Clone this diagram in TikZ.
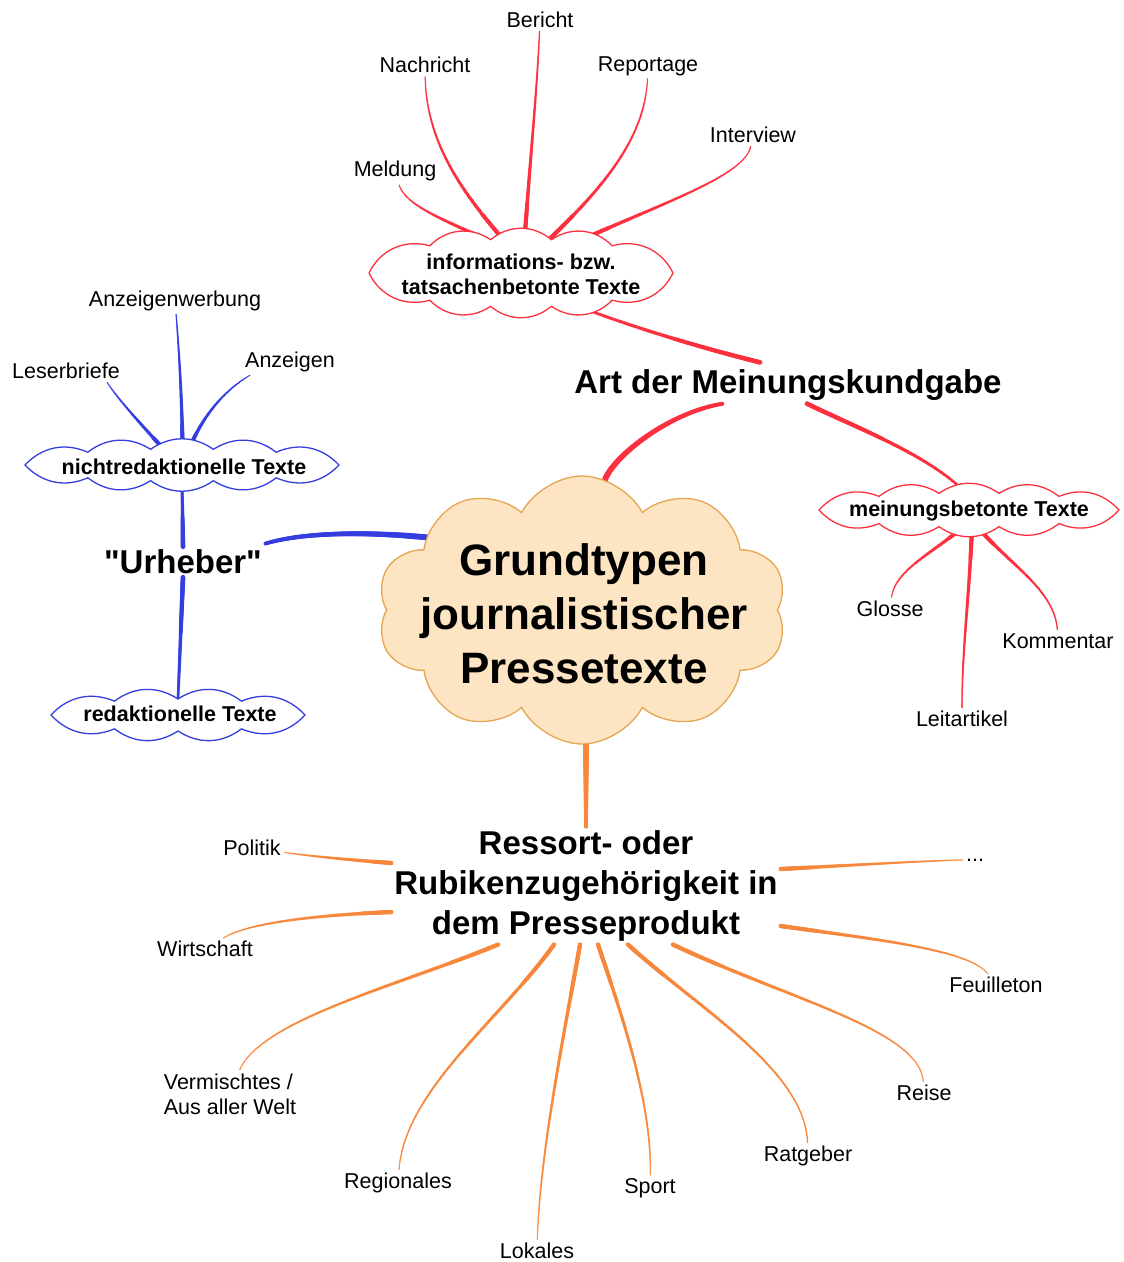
\documentclass[tikz,border=0pt]{standalone}
\usepackage{fontspec}
\setmainfont{Liberation Sans}[Ligatures=TeXOff]
\usetikzlibrary{shapes.symbols,shapes.geometric,decorations.markings,backgrounds,calc}
\definecolor{redc}{RGB}{252,48,62}
\definecolor{bluec}{RGB}{52,62,222}
\definecolor{orangec}{RGB}{247,135,58}
\definecolor{mainf}{RGB}{253,229,196}
\definecolor{maind}{RGB}{230,165,80}
% #1 name, #2 x, #3 y, #4 a, #5 b, #6 puffs per side, #7 colour, #8 bend
\newcommand\puffcloud[8]{%
  \node[ellipse, draw=none, inner sep=0pt, minimum width=#4*2pt, minimum height=#5*2pt] (#1) at (#2,#3) {};
  \pgfmathtruncatemacro\pcN{2*#6}%
  \draw[#7, line width=1.3pt, fill=white, shift={(#2,#3)}]
    (#4,0) \foreach \k [evaluate=\k as \t using {(\k<=#6) ? acos(min(1,max(-1,1-2*\k/#6))) : 360-acos(min(1,max(-1,1-2*(2*#6-\k)/#6)))}] in {1,...,\pcN}
      { to[bend right=#8] ({#4*cos(\t)},{#5*sin(\t)}) } -- cycle;
}
\begin{document}
\begin{tikzpicture}[x=1pt,y=1pt,
  leaf/.style={font=\fontsize{21.5}{25}\selectfont, inner sep=3pt},
  cltext/.style={font=\bfseries\fontsize{21.5}{25}\selectfont, align=center, inner sep=0pt},
  hub/.style={font=\bfseries\fontsize{33}{40}\selectfont, align=center, inner sep=3pt},
  taper/.style n args={3}{postaction={decorate,decoration={markings,
     mark=between positions 0 and 1 step 1pt with {%
       \pgfmathsetmacro\tpr{0.5*(#1+(#2-#1)*\pgfkeysvalueof{/pgf/decoration/mark info/distance from start}/\pgfdecoratedpathlength)}%
       \fill[#3] (0,0) circle[radius=\tpr pt];}}}},
  primary/.style={taper={6}{4}{#1}},
  secondary/.style={taper={4.8}{3}{#1}},
  leafline/.style={taper={4.5}{1.5}{#1}}
]
\useasboundingbox (0,0) rectangle (1124,-1262);

% ---------- clouds ----------
\node[cloud, cloud ignores aspect, inner sep=0pt, cloud puffs=10, cloud puff arc=125,
      minimum width=410pt, minimum height=268pt,
      draw=maind, fill=mainf, line width=1.3pt] (main) at (582,-610) {};
\node[font=\bfseries\fontsize{44}{54}\selectfont, align=center, inner sep=0pt] (maintext) at (584,-614)
  {Grundtypen\\journalistischer\\Pressetexte};

\puffcloud{info}{521}{-273}{152}{34}{5}{redc}{40}
\node[cltext] (infot) at (521,-274) {informations- bzw.\\tatsachenbetonte Texte};

\puffcloud{mein}{969}{-510}{150}{17}{5}{redc}{35}
\node[cltext] (meint) at (969,-511) {meinungsbetonte Texte};

\puffcloud{nicht}{182}{-465}{157}{16}{5}{bluec}{35}
\node[cltext] (nichtt) at (184,-467) {nichtredaktionelle Texte};

\puffcloud{redt}{178}{-715}{127}{16}{4}{bluec}{35}
\node[cltext] (redtt) at (180,-714) {redaktionelle Texte};

% ---------- hubs ----------
\node[hub] (art) at (788,-385) {Art der Meinungskundgabe};
\node[hub] (urh) at (183,-562) {"Urheber"};
\node[hub] (ress) at (586,-886) {Ressort- oder\\Rubikenzugehörigkeit in\\dem Presseprodukt};

% ---------- leaves ----------
\node[leaf] (meldung) at (395,-171) {Meldung};
\node[leaf] (nachricht) at (425,-65) {Nachricht};
\node[leaf] (bericht) at (540,-20) {Bericht};
\node[leaf] (reportage) at (648,-66) {Reportage};
\node[leaf] (interview) at (753,-135) {Interview};
\node[leaf] (glosse) at (890,-609) {Glosse};
\node[leaf] (komm) at (1058,-641) {Kommentar};
\node[leaf] (leit) at (962,-719) {Leitartikel};
\node[leaf] (anzw) at (175,-301) {Anzeigenwerbung};
\node[leaf] (leser) at (66,-371) {Leserbriefe};
\node[leaf] (anz) at (290,-362) {Anzeigen};
\node[leaf] (politik) at (252,-848) {Politik};
\node[leaf] (wirt) at (205,-949) {Wirtschaft};
\node[leaf, anchor=base] (dots) at (975,-861) {...};
\node[leaf] (feuil) at (996,-985) {Feuilleton};
\node[leaf, align=left] (verm) at (230,-1094) {Vermischtes /\\Aus aller Welt};
\node[leaf] (regio) at (398,-1183) {Regionales};
\node[leaf] (lokal) at (537,-1251) {Lokales};
\node[leaf] (sport) at (650,-1188) {Sport};
\node[leaf] (ratg) at (808,-1156) {Ratgeber};
\node[leaf] (reise) at (924,-1093) {Reise};

% ---------- connectors ----------
\begin{pgfonlayer}{background}
% red branch
\path[primary=redc] (main.80) .. controls (615,-455) and (670,-412) .. ([xshift=-65pt]art.south);
\path[secondary=redc] ([xshift=-28pt,yshift=4pt]art.north) .. controls (710,-350) and (640,-330) .. (info.329);
\path[secondary=redc] ([xshift=19pt]art.south) .. controls (850,-425) and (930,-455) .. (mein.102);
\path[leafline=redc] (info.136) .. controls (440,-218) and (405,-205) .. (meldung);
\path[leafline=redc] (info.118) .. controls (460,-190) and (426,-140) .. (nachricht);
\path[leafline=redc] (info.84) .. controls (531,-150) and (537,-90) .. (bericht);
\path[leafline=redc] (info.50) .. controls (600,-190) and (645,-140) .. (reportage);
\path[leafline=redc] (info.29) .. controls (670,-200) and (745,-175) .. (interview);
\path[leafline=redc] (mein.250) .. controls (930,-555) and (895,-570) .. (glosse);
\path[leafline=redc] (mein.280) .. controls (969,-600) and (962,-650) .. (leit);
\path[leafline=redc] (mein.297) .. controls (1010,-565) and (1055,-590) .. (komm);
% blue branch
\path[primary=bluec] (main.155) .. controls (360,-531) and (300,-533) .. ([yshift=3pt]urh.north east);
\path[secondary=bluec] (urh.north) -- (nicht.south);
\path[secondary=bluec] (urh.south) -- (redt.north);
\path[leafline=bluec] (nicht.139) .. controls (135,-418) and (115,-395) .. ([xshift=-16pt]leser.south east);
\path[leafline=bluec] (nicht.88) .. controls (182,-400) and (179,-350) .. (anzw);
\path[leafline=bluec] (nicht.66) .. controls (203,-415) and (225,-390) .. ([xshift=8pt]anz.south west);
% orange branch
\path[primary=orangec] (main.south -| ress.north) -- (ress.north);
\path[leafline=orangec] ([yshift=23pt]ress.west) .. controls (350,-860) and (310,-856) .. (politik);
\path[leafline=orangec] ([yshift=-26pt]ress.west) .. controls (320,-915) and (250,-922) .. (wirt);
\path[leafline=orangec] ([yshift=17pt]ress.east) .. controls (840,-866) and (900,-862) .. (dots.west);
\path[leafline=orangec] ([yshift=-40pt]ress.east) .. controls (880,-940) and (970,-950) .. (feuil);
\path[leafline=orangec] ([xshift=-88pt]ress.south) .. controls (400,-985) and (260,-1020) .. (verm);
\path[leafline=orangec] ([xshift=-32pt]ress.south) .. controls (500,-1020) and (405,-1090) .. (regio);
\path[leafline=orangec] ([xshift=-6pt]ress.south) .. controls (565,-1030) and (540,-1150) .. (lokal);
\path[leafline=orangec] ([xshift=12pt]ress.south) .. controls (620,-1010) and (652,-1100) .. (sport);
\path[leafline=orangec] ([xshift=42pt]ress.south) .. controls (700,-1010) and (805,-1070) .. (ratg);
\path[leafline=orangec] ([xshift=87pt]ress.south) .. controls (790,-1000) and (920,-1030) .. (reise);
\end{pgfonlayer}
\end{tikzpicture}
\end{document}
